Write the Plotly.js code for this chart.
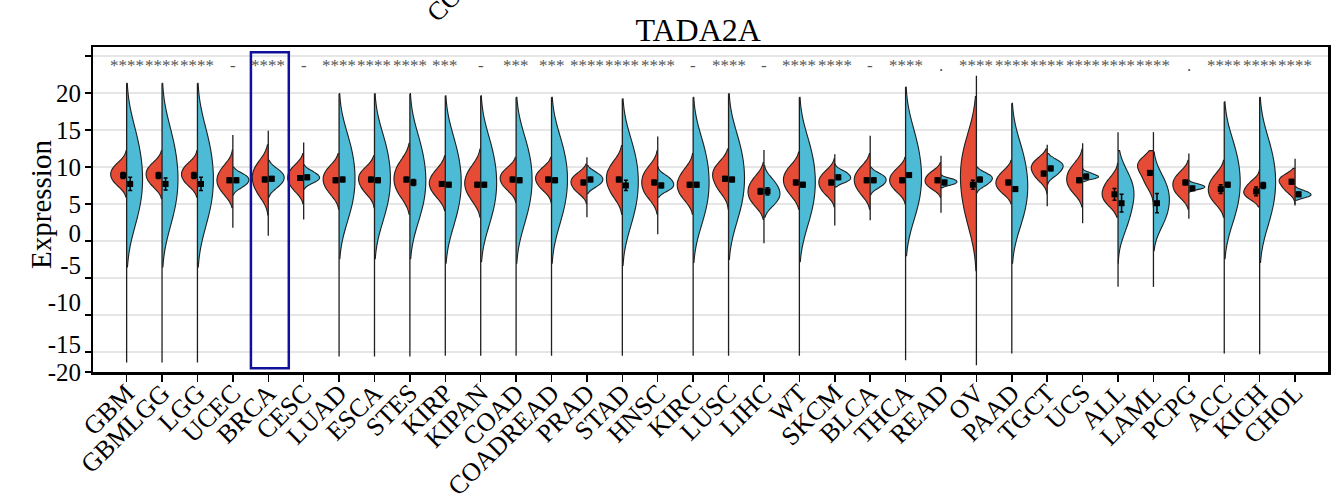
<!DOCTYPE html>
<html><head><meta charset="utf-8">
<script src="https://cdn.plot.ly/plotly-3.0.1.min.js"></script>
<style>html,body{margin:0;padding:0;background:#fff}#chart{width:1338px;height:503px}</style>
</head><body><div id="chart"></div>
<script>
const categories = ['GBM','GBMLGG','LGG','UCEC','BRCA','CESC','LUAD','ESCA','STES','KIRP','KIPAN','COAD','COADREAD','PRAD','STAD','HNSC','KIRC','LUSC','LIHC','WT','SKCM','BLCA','THCA','READ','OV','PAAD','TGCT','UCS','ALL','LAML','PCPG','ACC','KICH','CHOL'];
const significance = ['****','****','****','-','****','-','****','****','****','***','-','***','***','****','****','****','-','****','-','****','****','-','****','.','****','****','****','****','****','****','.','****','****','****'];

// Tumor (red) violins: visible extent and representative sample values
const tumorLo = [5.9,5.7,5.9,4.5,3.5,5.0,4.3,4.5,3.6,4.1,3.2,5.2,5.2,5.0,3.6,3.6,3.6,4.3,2.9,4.3,4.6,4.3,5.0,5.9,-4.0,5.0,6.4,4.6,3.2,4.6,4.3,3.2,4.6,5.0];
const tumorHi = [12.2,12.2,12.2,12.3,13.0,11.8,11.8,11.5,13.2,11.5,12.4,11.3,11.3,10.4,12.9,12.2,11.8,12.4,10.6,12.0,11.1,11.8,11.3,10.6,19.5,10.9,12.4,12.4,10.5,12.2,10.9,10.9,9.6,9.8];
const tumorSamples = [
 [7.6,8.4,9.0,9.6,10.4],[7.5,8.3,9.0,9.6,10.4],[7.6,8.4,9.0,9.6,10.4],[6.5,7.5,8.2,9.0,10.0],
 [6.3,7.5,8.5,9.4,10.5],[6.9,7.8,8.5,9.2,10.0],[6.5,7.5,8.3,9.0,9.9],[6.6,7.5,8.3,8.9,9.7],
 [6.2,7.4,8.4,9.4,10.6],[6.1,7.1,7.8,8.5,9.5],[5.7,6.9,7.8,8.7,9.9],[7.0,7.8,8.4,9.0,9.7],
 [7.0,7.8,8.4,9.0,9.7],[6.6,7.3,7.9,8.4,9.0],[6.2,7.4,8.4,9.3,10.4],[6.0,7.0,7.9,8.8,9.8],
 [5.8,6.8,7.6,8.4,9.5],[6.8,7.9,8.8,9.5,10.4],[5.0,5.9,6.7,7.5,8.5],[6.4,7.4,8.2,9.0,9.9],
 [6.4,7.2,7.9,8.5,9.3],[6.4,7.4,8.2,8.9,9.8],[6.8,7.6,8.2,8.8,9.6],[7.2,7.7,8.2,8.7,9.3],
 [2.9,6.0,8.5,10.7,13.5],[6.6,7.3,7.9,8.5,9.3],[8.3,9.1,9.8,10.3,11.0],[6.7,7.6,8.4,9.2,10.2],
 [5.0,5.8,6.5,7.3,8.3],[7.6,8.9,10.0,10.4,11.0],[6.1,6.9,7.6,8.3,9.1],[5.3,6.2,7.0,7.8,8.8],
 [5.8,6.3,6.7,7.3,8.0],[6.7,7.4,8.0,8.4,8.8]
];

// Normal (blue) violins
const normalLo = [-3.5,-3.5,-3.5,6.2,5.9,7.0,-2.4,-2.4,-2.4,-3.0,-2.8,-3.0,-3.0,6.4,-3.3,5.9,-2.9,-2.5,3.2,-2.8,7.3,6.2,-2.0,7.2,6.5,-3.0,7.6,8.0,-3.0,-1.3,6.6,-2.4,-2.9,5.5];
const normalHi = [21.3,21.3,21.3,10.0,10.9,10.3,19.9,19.9,19.9,19.6,19.6,19.4,19.4,10.2,19.2,10.0,19.4,19.9,10.2,19.4,10.4,10.0,20.8,8.9,10.0,18.6,11.8,9.8,12.2,12.0,8.2,18.8,19.4,7.3];
const normalSamples = [
 [3.1,6.1,8.5,11.1,14.3],[3.1,6.1,8.5,11.1,14.3],[3.1,6.1,8.5,11.1,14.3],[7.3,7.8,8.2,8.6,9.0],
 [7.3,8.0,8.5,9.0,9.6],[7.9,8.3,8.6,8.9,9.4],[3.6,6.3,8.5,10.8,13.6],[3.6,6.3,8.5,10.8,13.6],
 [3.5,6.2,8.3,10.6,13.5],[3.0,5.8,8.0,10.3,13.2],[3.1,5.8,8.0,10.3,13.2],[3.2,6.0,8.3,10.5,13.3],
 [3.2,6.0,8.3,10.5,13.3],[7.4,7.9,8.3,8.7,9.2],[2.9,5.7,8.0,10.2,13.0],[6.9,7.3,7.7,8.2,8.7],
 [3.1,5.8,8.0,10.3,13.1],[3.5,6.3,8.5,10.8,13.6],[5.0,5.8,6.5,7.2,8.2],[3.0,5.8,8.0,10.3,13.1],
 [8.0,8.3,8.6,9.0,9.4],[7.3,7.8,8.2,8.6,9.0],[3.9,6.6,8.8,11.2,14.2],[7.6,7.8,8.0,8.2,8.4],
 [7.5,8.0,8.4,8.7,9.1],[2.8,5.4,7.5,9.7,12.5],[8.9,9.5,10.0,10.4,10.8],[8.4,8.6,8.7,8.9,9.2],
 [2.0,4.2,6.0,7.2,8.8],[2.4,4.1,5.5,6.8,8.4],[7.0,7.2,7.3,7.5,7.7],[3.3,5.9,8.0,10.2,12.9],
 [3.0,5.8,8.0,10.3,13.1],[5.9,6.1,6.3,6.5,6.8]
];

// Thin whisker line through each pair
const lineLo = [-16.4,-16.4,-16.4,1.8,0.7,2.9,-15.6,-15.6,-15.6,-15.5,-15.5,-15.5,-15.5,3.2,-15.5,0.9,-15.5,-15.5,-0.3,-15.5,2.1,2.8,-16.1,3.8,-16.8,-15.2,4.7,2.4,-6.2,-6.2,3.0,-15.2,-15.3,4.8];
const lineHi = [21.3,21.3,21.3,14.3,14.9,13.3,19.9,19.9,19.9,19.6,19.6,19.4,19.4,11.3,19.2,14.1,19.4,19.9,12.3,19.4,11.7,14.2,20.8,11.5,22.3,18.6,13.0,13.2,14.7,14.7,11.8,18.8,19.4,11.1];

// Mean points with error bars
const tumorMean = [8.85,8.85,8.85,8.2,8.3,8.5,8.2,8.3,8.3,7.7,7.6,8.3,8.3,7.9,8.3,7.9,7.6,8.4,6.7,7.9,7.9,8.2,8.2,8.2,7.6,7.9,9.1,8.2,6.3,9.2,7.9,7.0,6.7,8.0];
const normalMean = [7.7,7.7,7.7,8.2,8.4,8.6,8.3,8.2,7.9,7.6,7.6,8.2,8.2,8.3,7.5,7.5,7.6,8.3,6.7,7.6,8.6,8.2,8.9,7.9,8.3,7.0,9.8,8.7,5.1,5.1,7.1,7.6,7.5,6.3];
const tumorErr = [0.4,0.4,0.4,0.3,0.3,0.3,0.3,0.3,0.3,0.3,0.3,0.3,0.3,0.3,0.3,0.3,0.3,0.3,0.4,0.3,0.3,0.3,0.3,0.3,0.6,0.3,0.3,0.3,0.8,0.3,0.3,0.6,0.6,0.3];
const normalErr = [0.9,0.8,0.9,0.3,0.3,0.3,0.3,0.3,0.4,0.3,0.3,0.3,0.3,0.3,0.7,0.3,0.3,0.3,0.5,0.3,0.3,0.3,0.3,0.3,0.3,0.3,0.3,0.3,1.2,1.3,0.3,0.3,0.4,0.3];

// Y axis: tick marks and where the reference prints its labels
const yTickMarks = [25, 20, 15, 10, 5, 0, -5, -10, -15, -17.7];
const yLabelText = ['20', '15', '10', '5', '0', '-5', '-10', '-15', '-20'];
const yLabelPos = [20, 15, 10, 4.9, 1.0, -3.3, -8.3, -14.0, -17.7];

const RED = '#E64B35', BLUE = '#4DBBD5', OUTLINE = '#1f1f1f';
const FONT = '"Liberation Serif", "Times New Roman", serif';
const traces = [];

// whisker lines
const wx = [], wy = [];
categories.forEach((c, i) => { wx.push(i, i, null); wy.push(lineLo[i], lineHi[i], null); });
traces.push({type:'scatter', mode:'lines', x:wx, y:wy, line:{color:OUTLINE, width:1.3}, hoverinfo:'skip', showlegend:false});

const violinBase = {type:'violin', points:false, box:{visible:false}, meanline:{visible:false},
  spanmode:'manual', scalemode:'width', width:0.9, hoverinfo:'skip', showlegend:false,
  line:{color:OUTLINE, width:1.1}, opacity:1};

categories.forEach((c, i) => {
  traces.push(Object.assign({}, violinBase, {name:c+' Tumor', x0:i, y:tumorSamples[i], side:'negative',
    span:[tumorLo[i], tumorHi[i]], fillcolor:RED}));
  traces.push(Object.assign({}, violinBase, {name:c+' Normal', x0:i, y:normalSamples[i], side:'positive',
    span:[normalLo[i], normalHi[i]], fillcolor:BLUE}));
});

const idx = categories.map((c, i) => i);
traces.push({type:'scatter', mode:'markers', x:idx.map(i => i - 0.1), y:tumorMean,
  marker:{symbol:'square', size:6, color:'#000'},
  error_y:{type:'data', array:tumorErr, visible:true, color:'#000', thickness:1.5, width:2},
  hoverinfo:'skip', showlegend:false});
traces.push({type:'scatter', mode:'markers', x:idx.map(i => i + 0.1), y:normalMean,
  marker:{symbol:'square', size:6, color:'#000'},
  error_y:{type:'data', array:normalErr, visible:true, color:'#000', thickness:1.5, width:2},
  hoverinfo:'skip', showlegend:false});
// anchor trace for the label axis
traces.push({type:'scatter', mode:'markers', x:[null], y:[null], yaxis:'y2', hoverinfo:'skip', showlegend:false});

const yRange = [-17.7, 26.2];

const annotations = categories.map((c, i) => ({
  x:i, y:23.7, xref:'x', yref:'y', text:significance[i], showarrow:false,
  xanchor:'center', yanchor:'middle', font:{size:17, color:'#555'}
}));
annotations.push({x:0.315, y:1.249, xref:'paper', yref:'paper', text:'COADREAD', showarrow:false,
  textangle:-45, xanchor:'center', yanchor:'middle', font:{size:26, color:'#000'}});
annotations.push({x:-0.0421, y:0.514, xref:'paper', yref:'paper', text:'Expression', showarrow:false,
  textangle:-90, xanchor:'center', yanchor:'middle', font:{size:29, color:'#000'}});

const hi = categories.indexOf('BRCA');
const layout = {
  width:1338, height:503,
  margin:{l:93, r:10, t:47, b:131},
  paper_bgcolor:'#fff', plot_bgcolor:'#fff',
  violinmode:'overlay', showlegend:false,
  font:{family:FONT, color:'#000'},
  title:{text:'TADA2A', font:{size:32, color:'#000'}, xref:'paper', x:0.49, xanchor:'center',
    yref:'container', y:0.94, yanchor:'middle'},
  xaxis:{type:'linear', range:[-0.95, 33.93], tickmode:'array', tickvals:idx, ticktext:categories,
    tickangle:-45, ticks:'outside', ticklen:7, tickwidth:1.5, tickcolor:'#000', ticklabelstandoff:-14,
    showline:true, linewidth:2.5, linecolor:'#000', mirror:true, showgrid:false, zeroline:false,
    tickfont:{size:26}},
  yaxis:{range:yRange, tickmode:'array', tickvals:yTickMarks, showticklabels:false,
    ticks:'outside', ticklen:6, tickwidth:1.5, tickcolor:'#000',
    showline:true, linewidth:2.5, linecolor:'#000', mirror:true,
    showgrid:true, gridcolor:'#E6E6E6', gridwidth:1.5, zeroline:false},
  yaxis2:{overlaying:'y', side:'left', range:yRange, tickmode:'array', tickvals:yLabelPos, ticktext:yLabelText,
    ticks:'outside', ticklen:6, tickcolor:'rgba(0,0,0,0)', showgrid:false, zeroline:false,
    showline:false, tickfont:{size:25}},
  shapes:[{type:'rect', xref:'x', yref:'y', x0:hi - 0.49, x1:hi + 0.58, y0:-17.2, y1:25.5,
    line:{color:'#10109C', width:2.5}, fillcolor:'rgba(0,0,0,0)'}],
  annotations:annotations
};

Plotly.newPlot('chart', traces, layout, {staticPlot:true, displayModeBar:false});
</script></body></html>
